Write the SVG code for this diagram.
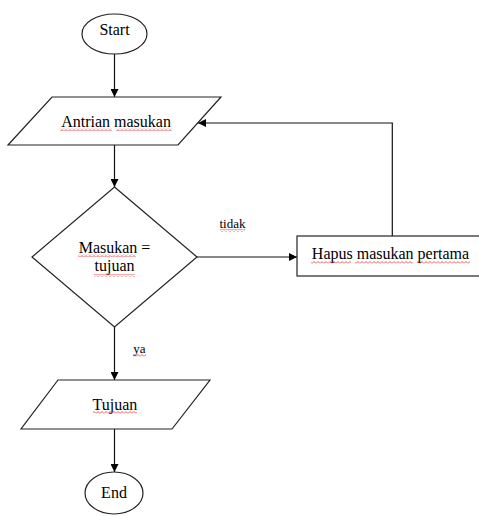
<svg xmlns="http://www.w3.org/2000/svg" width="479" height="516" viewBox="0 0 479 516">
<defs>
<style>
.shape{fill:#fff;stroke:#222;stroke-width:1.2}
.conn{fill:none;stroke:#111;stroke-width:1.2}
.t{font-family:"Liberation Serif","Times New Roman",serif;font-size:16px;fill:#000;text-anchor:middle}
.lbl{font-family:"Liberation Serif","Times New Roman",serif;font-size:13px;fill:#000;text-anchor:middle}
.sq{fill:url(#squig)}
</style>
<marker id="arr" viewBox="0 0 10 10" refX="10" refY="5" markerWidth="9" markerHeight="8" markerUnits="userSpaceOnUse" orient="auto">
<path d="M0,0 L10,5 L0,10 Z" fill="#000"/>
</marker>
<pattern id="squig" width="4" height="3" patternUnits="userSpaceOnUse">
<path d="M0,2.5 L2,0.5 L4,2.5" fill="none" stroke="#e03030" stroke-width="0.8"/>
</pattern>
</defs>
<rect width="479" height="516" fill="#fff"/>
<g id="connectors">
<line class="conn" x1="114.5" y1="54" x2="114.5" y2="97" marker-end="url(#arr)"/>
<line class="conn" x1="114.5" y1="145" x2="114.5" y2="187" marker-end="url(#arr)"/>
<line class="conn" x1="197" y1="257" x2="297" y2="257" marker-end="url(#arr)"/>
<polyline class="conn" points="392.3,236 392.3,123 198,123" marker-end="url(#arr)"/>
<line class="conn" x1="114.5" y1="327" x2="114.5" y2="380" marker-end="url(#arr)"/>
<line class="conn" x1="114.5" y1="429" x2="114.5" y2="472" marker-end="url(#arr)"/>
<text class="lbl" x="232.5" y="228">tidak</text>
<rect class="sq" x="220" y="229" width="25" height="3"/>
<text class="lbl" x="139.5" y="353">ya</text>
<rect class="sq" x="133" y="354" width="13" height="3"/>
</g>
<g id="start">
<ellipse class="shape" cx="114.5" cy="34" rx="32.5" ry="20"/>
<text class="t" x="114.5" y="35">Start</text>
</g>
<g id="antrian">
<polygon class="shape" points="52,97 221,97 178,145 8,145"/>
<text class="t" x="116" y="127">Antrian masukan</text>
<rect class="sq" x="60" y="128" width="52" height="3"/>
<rect class="sq" x="116" y="128" width="56" height="3"/>
</g>
<g id="decision">
<polygon class="shape" points="114.5,187 197,257 114.5,327 32,257"/>
<text class="t" x="114.5" y="253">Masukan =</text>
<text class="t" x="114.5" y="271">tujuan</text>
<rect class="sq" x="78" y="254" width="58" height="3"/>
<rect class="sq" x="94" y="274" width="41" height="3"/>
</g>
<g id="hapus">
<rect class="shape" x="297" y="236" width="186" height="40"/>
<text class="t" x="390.5" y="259">Hapus masukan pertama</text>
<rect class="sq" x="311" y="261" width="40" height="3"/>
<rect class="sq" x="355" y="261" width="58" height="3"/>
<rect class="sq" x="417" y="261" width="53" height="3"/>
</g>
<g id="tujuan">
<polygon class="shape" points="58,380 210,380 172,429 21,429"/>
<text class="t" x="115" y="410">Tujuan</text>
<rect class="sq" x="93" y="411" width="44" height="3"/>
</g>
<g id="end">
<ellipse class="shape" cx="114" cy="493" rx="29" ry="21"/>
<text class="t" x="114" y="498">End</text>
</g>
</svg>
